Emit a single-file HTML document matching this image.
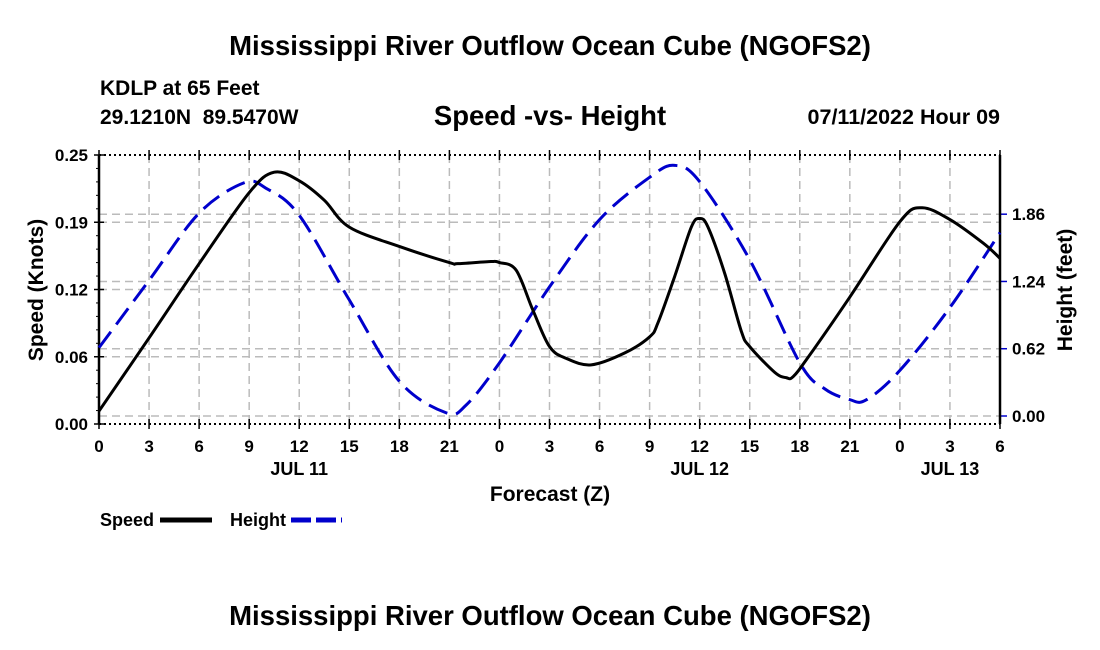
<!DOCTYPE html>
<html><head><meta charset="utf-8"><style>
body{margin:0;background:#fff;}
svg{display:block;font-family:"Liberation Sans",sans-serif;font-weight:bold;}
</style></head><body>
<svg id="c" width="1100" height="650" viewBox="0 0 1100 650">
<text x="550" y="55" font-size="27.5" text-anchor="middle">Mississippi River Outflow Ocean Cube (NGOFS2)</text>
<text x="100" y="95" font-size="21">KDLP at 65 Feet</text>
<text x="100" y="124" font-size="21" xml:space="preserve">29.1210N  89.5470W</text>
<text x="550" y="125" font-size="27.5" text-anchor="middle">Speed -vs- Height</text>
<text x="1000" y="124" font-size="21.5" text-anchor="end">07/11/2022 Hour 09</text>
<g id="grid"></g><g id="axes"></g><g id="series"></g>
<text x="550" y="501" font-size="21" text-anchor="middle">Forecast (Z)</text>
<text transform="translate(43,290) rotate(-90)" font-size="21" text-anchor="middle">Speed (Knots)</text>
<text transform="translate(1072,290) rotate(-90)" font-size="21" text-anchor="middle">Height (feet)</text>
<g>
<text x="100" y="526" font-size="18">Speed</text>
<line x1="160" y1="520" x2="212" y2="520" stroke="#000" stroke-width="5"/>
<text x="230" y="526" font-size="18">Height</text>
<line x1="291" y1="520" x2="342" y2="520" stroke="#0000cc" stroke-width="5" stroke-dasharray="20,5"/>
</g>
<text x="550" y="625" font-size="27.5" text-anchor="middle">Mississippi River Outflow Ocean Cube (NGOFS2)</text>
</svg>
<script>
const speedHours=[0,3,6,9,10.5,12,13.5,15,18,21,21.5,23.5,24,25,26,27,28,29.5,31.5,33,33.5,34.5,35.5,36,36.5,37.5,38.5,39,40.5,41.2,41.6,42.5,45,48,49.3,51,53,54];
const speedVals=[.012,.08,.149,.215,.234,.226,.208,.183,.165,.150,.149,.151,.150,.143,.106,.072,.061,.055,.066,.081,.094,.137,.183,.191,.183,.140,.086,.072,.048,.043,.044,.062,.118,.188,.201,.19,.168,.154];
const heightHours=[0,3,6,8.7,10,12,15,18,20.8,22,24,27,30,33,34.5,36,39,42,43.5,45,46,48,51,54];
const heightVals=[.63,1.25,1.87,2.15,2.1,1.85,1.07,.32,.03,.1,.49,1.19,1.81,2.2,2.31,2.16,1.44,.49,.25,.15,.15,.42,1.0,1.69];
const xTickLabels=["0","3","6","9","12","15","18","21","0","3","6","9","12","15","18","21","0","3","6"];
const dayLabels=["JUL 11","JUL 12","JUL 13"];
const dayHours=[12,36,51];
const leftTicks=[0,0.0625,0.125,0.1875,0.25];
const leftTickLabels=["0.00","0.06","0.12","0.19","0.25"];
const rightTicks=[0,0.62,1.24,1.86];

const X0=99,X1=1000,YT=155,YB=424;
const x=h=>X0+h*(X1-X0)/54;
const yL=v=>YB-v*(YB-YT)/0.25;
const yR=v=>416-v*108.5;
const NS="http://www.w3.org/2000/svg";
function mk(parent,tag,attrs){const e=document.createElementNS(NS,tag);for(const k in attrs)e.setAttribute(k,attrs[k]);document.getElementById(parent).appendChild(e);return e;}

xTickLabels.forEach((l,i)=>{const h=i*3;
 if(i>0&&i<xTickLabels.length-1){const g=mk('grid','line',{x1:x(h),x2:x(h),y1:YT,y2:YB,stroke:'#bbb','stroke-width':1.5,'stroke-dasharray':'8,5'});
 
 }
 const t=mk('axes','text',{x:x(h),y:452,'font-size':17,'text-anchor':'middle'});t.textContent=l;
 
 
 for(const yy of [YT,YB]){const tk=mk('axes','line',{x1:x(h),x2:x(h),y1:yy-5,y2:yy+5,stroke:'#000','stroke-width':1.5});
 
 }
});
dayLabels.forEach((l,i)=>{const t=mk('axes','text',{x:x(dayHours[i]),y:475,'font-size':18,'text-anchor':'middle'});t.textContent=l;
 
 });
leftTicks.forEach((v,i)=>{const yy=yL(v);
 if(i>0&&i<leftTicks.length-1){const g=mk('grid','line',{x1:X0,x2:X1,y1:yy,y2:yy,stroke:'#bbb','stroke-width':1.5,'stroke-dasharray':'8,5'});
 
 }
 const tk=mk('axes','line',{x1:X0-5,x2:X0+5,y1:yy,y2:yy,stroke:'#000','stroke-width':1.5});
 
 
 const t=mk('axes','text',{x:88,y:yy+6,'font-size':17,'text-anchor':'end'});t.textContent=leftTickLabels[i];
 
 });
for(let k=0;k<=20;k++){const yy=YT+k*(YB-YT)/20;const m=mk('axes','line',{x1:X0-3,x2:X0,y1:yy,y2:yy,stroke:'#000','stroke-width':1});
 
 }
rightTicks.forEach(v=>{const yy=yR(v);
 const g=mk('grid','line',{x1:X0,x2:X1,y1:yy,y2:yy,stroke:'#bbb','stroke-width':1.5,'stroke-dasharray':'8,5'});
 
 
 const tk=mk('axes','line',{x1:X1,x2:X1+7,y1:yy,y2:yy,stroke:'#0000cc','stroke-width':1.5});
 
 
 const t=mk('axes','text',{x:1012,y:yy+6,'font-size':17});t.textContent=v.toFixed(2);
 
 });
[[X0,YT,X0,YB],[X1,YT,X1,YB]].forEach(a=>{const l=mk('axes','line',{x1:a[0],y1:a[1],x2:a[2],y2:a[3],stroke:'#000','stroke-width':2.5});
 
 });
[YT,YB].forEach(yy=>{const l=mk('axes','line',{x1:X0,y1:yy,x2:X1,y2:yy,stroke:'#000','stroke-width':2,'stroke-dasharray':'2,3'});
 
 });

function path(hs,vs,fy){const p=hs.map((h,i)=>[x(h),fy(vs[i])]);let d='M'+p[0][0]+','+p[0][1];
 for(let i=0;i<p.length-1;i++){const p0=p[Math.max(0,i-1)],p1=p[i],p2=p[i+1],p3=p[Math.min(p.length-1,i+2)];
 const c1=[p1[0]+(p2[0]-p0[0])/6,p1[1]+(p2[1]-p0[1])/6],c2=[p2[0]-(p3[0]-p1[0])/6,p2[1]-(p3[1]-p1[1])/6];
 d+=` C${c1[0]},${c1[1]} ${c2[0]},${c2[1]} ${p2[0]},${p2[1]}`;}return d;}
const hp=mk('series','path',{d:path(heightHours,heightVals,yR),fill:'none',stroke:'#0000cc','stroke-width':3,'stroke-dasharray':'20,9'});


const sp=mk('series','path',{d:path(speedHours,speedVals,yL),fill:'none',stroke:'#000','stroke-width':3});


</script>
</body></html>
